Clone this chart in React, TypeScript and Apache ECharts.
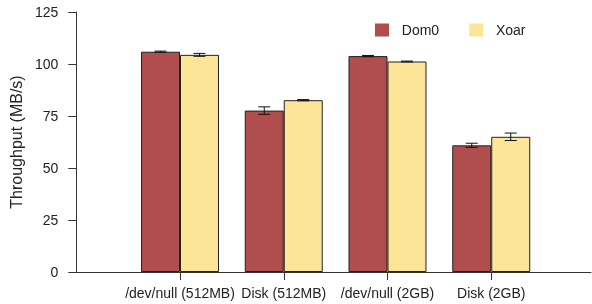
import React, { useEffect, useRef } from "react";
import * as echarts from "echarts";

const categories = ["/dev/null (512MB)", "Disk (512MB)", "/dev/null (2GB)", "Disk (2GB)"];
const dom0Values = [105.9, 77.6, 103.8, 60.9];
const dom0Errors = [0.3, 1.8, 0.3, 1.0];
const xoarValues = [104.4, 82.6, 101.2, 65.0];
const xoarErrors = [0.7, 0.3, 0.2, 1.8];
const yTicks = [0, 25, 50, 75, 100, 125];

const FONT = "'Liberation Sans', Arial, Helvetica, sans-serif";
const DOM0_COLOR = "#b04d4d";
const XOAR_COLOR = "#fde598";
const BAR_W = 39;

function errorSeries(name: string, values: number[], errors: number[], offset: number) {
  return {
    type: "custom",
    name: name + "-err",
    silent: true,
    z: 5,
    data: values.map((v, i) => [i + 1, v, errors[i]]),
    renderItem: (_params: any, api: any) => {
      const x = api.value(0);
      const v = api.value(1);
      const e = api.value(2);
      const top = api.coord([x, v + e]);
      const bot = api.coord([x, v - e]);
      const cx = top[0] + offset;
      const cap = 6;
      const style = { stroke: "#111", lineWidth: 1 };
      return {
        type: "group",
        children: [
          { type: "line", shape: { x1: cx, y1: top[1], x2: cx, y2: bot[1] }, style },
          { type: "line", shape: { x1: cx - cap, y1: top[1], x2: cx + cap, y2: top[1] }, style },
          { type: "line", shape: { x1: cx - cap, y1: bot[1], x2: cx + cap, y2: bot[1] }, style },
        ],
      };
    },
  };
}

export default function App() {
  const ref = useRef<HTMLDivElement>(null);
  useEffect(() => {
    if (!ref.current) return;
    const chart = echarts.init(ref.current, undefined, { renderer: "svg" });
    const xMax = (591 - 75) / 104;
    chart.setOption({
      animation: false,
      textStyle: { fontFamily: FONT },
      grid: { left: 75, top: 12, bottom: 32, right: 592 - 591 },
      legend: {
        left: 375,
        top: 23,
        padding: 0,
        itemWidth: 14,
        itemHeight: 13,
        itemGap: 30,
        icon: "rect",
        itemStyle: { borderWidth: 0 },
        formatter: (n: string) => "\u00a0\u00a0" + n,
        textStyle: { fontSize: 14, color: "#222", fontFamily: FONT },
        data: ["Dom0", "Xoar"],
      },
      xAxis: {
        type: "value",
        min: 0,
        max: xMax,
        splitLine: { show: false },
        axisLine: { show: true, lineStyle: { color: "#333", width: 1 } },
        axisTick: { show: true, length: 8, lineStyle: { color: "#333" }, customValues: [1, 2, 3, 4] },
        axisLabel: {
          customValues: [1, 2, 3, 4],
          formatter: (v: number) => categories[Math.round(v) - 1] ?? "",
          fontSize: 14,
          color: "#222",
          margin: 14,
          fontFamily: FONT,
        },
      },
      yAxis: {
        type: "value",
        min: yTicks[0],
        max: yTicks[yTicks.length - 1],
        interval: 25,
        name: "Throughput (MB/s)",
        nameLocation: "middle",
        nameGap: 48,
        nameTextStyle: { fontSize: 16, color: "#222", fontFamily: FONT },
        splitLine: { show: false },
        axisLine: { show: true, lineStyle: { color: "#333", width: 1 } },
        axisTick: { show: true, length: 8, lineStyle: { color: "#333" } },
        axisLabel: { fontSize: 14, color: "#222", margin: 18, fontFamily: FONT },
      },
      series: [
        {
          type: "bar",
          name: "Dom0",
          barWidth: BAR_W,
          barGap: "0%",
          data: dom0Values.map((v, i) => [i + 1, v]),
          itemStyle: { color: DOM0_COLOR, borderColor: "#222", borderWidth: 1 },
        },
        {
          type: "bar",
          name: "Xoar",
          barWidth: BAR_W,
          barGap: "0%",
          data: xoarValues.map((v, i) => [i + 1, v]),
          itemStyle: { color: XOAR_COLOR, borderColor: "#222", borderWidth: 1 },
        },
        errorSeries("Dom0", dom0Values, dom0Errors, -BAR_W / 2),
        errorSeries("Xoar", xoarValues, xoarErrors, BAR_W / 2),
      ],
    });
    return () => chart.dispose();
  }, []);
  return (
    <div
      ref={ref}
      style={{ position: "fixed", left: 0, top: 0, width: 592, height: 304 }}
    />
  );
}
